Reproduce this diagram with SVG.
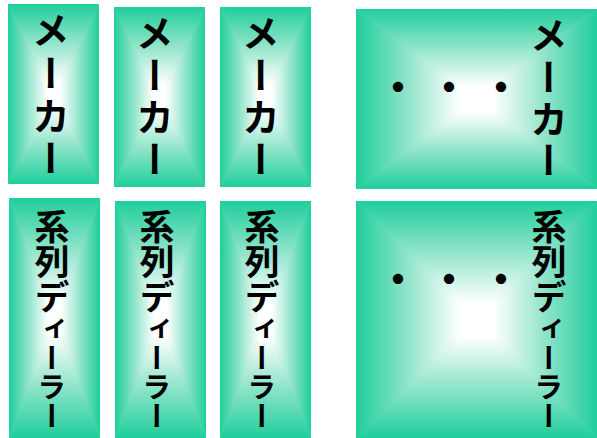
<svg xmlns="http://www.w3.org/2000/svg" xmlns:xlink="http://www.w3.org/1999/xlink" width="597" height="438" viewBox="0 0 597 438">
  <defs>
    <linearGradient id="gT" x1="0" y1="0" x2="0" y2="1"><stop offset="0" stop-color="#1FCE9B"/><stop offset="0.5" stop-color="#90E4CA"/><stop offset="1" stop-color="#FFFFFF"/></linearGradient>
    <linearGradient id="gB" x1="0" y1="1" x2="0" y2="0"><stop offset="0" stop-color="#1FCE9B"/><stop offset="0.5" stop-color="#90E4CA"/><stop offset="1" stop-color="#FFFFFF"/></linearGradient>
    <linearGradient id="gL" x1="0" y1="0" x2="1" y2="0"><stop offset="0" stop-color="#1FCE9B"/><stop offset="0.5" stop-color="#90E4CA"/><stop offset="1" stop-color="#FFFFFF"/></linearGradient>
    <linearGradient id="gR" x1="1" y1="0" x2="0" y2="0"><stop offset="0" stop-color="#1FCE9B"/><stop offset="0.5" stop-color="#90E4CA"/><stop offset="1" stop-color="#FFFFFF"/></linearGradient>
    <symbol id="bg" viewBox="0 0 100 100" preserveAspectRatio="none">
      <rect x="0" y="0" width="100" height="100" fill="#7EDDC0"/>
      <rect x="42" y="42" width="16" height="16" fill="#FFFFFF"/>
      <polygon points="0,0 100,0 57,43 43,43" fill="url(#gT)"/>
      <polygon points="0,100 100,100 57,57 43,57" fill="url(#gB)"/>
      <polygon points="0,0 0,100 43,57 43,43" fill="url(#gL)"/>
      <polygon points="100,0 100,100 57,57 57,43" fill="url(#gR)"/>
    </symbol>
  </defs>
  <style>
    .v { writing-mode: vertical-rl; font-family: "Noto Sans CJK JP", "Noto Sans CJK SC", sans-serif; font-size: 38px; font-weight: bold; fill: #000000; }
    .d { font-size: 35px; }
    .k { font-size: 29px; }
    .dot { font-family: "Noto Sans CJK JP", "Noto Sans CJK SC", sans-serif; font-size: 40px; font-weight: bold; fill: #000000; text-anchor: middle; dominant-baseline: central; }
  </style>

  <g id="maker1">
    <use xlink:href="#bg" x="8" y="4" width="91" height="180"/>
    <text class="v" x="51" y="11" textLength="166" lengthAdjust="spacing">メーカー</text>
  </g>
  <g id="maker2">
    <use xlink:href="#bg" x="114" y="7" width="91" height="180"/>
    <text class="v" x="155" y="14" textLength="164" lengthAdjust="spacing">メーカー</text>
  </g>
  <g id="maker3">
    <use xlink:href="#bg" x="220" y="7" width="91" height="180"/>
    <text class="v" x="261" y="14" textLength="164" lengthAdjust="spacing">メーカー</text>
  </g>
  <g id="maker4">
    <use xlink:href="#bg" x="356" y="9" width="241" height="180"/>
    <text class="v" x="549" y="16" textLength="163" lengthAdjust="spacing">メーカー</text>
    <text class="dot" x="398" y="85">・</text>
    <text class="dot" x="449" y="85">・</text>
    <text class="dot" x="501" y="85">・</text>
  </g>

  <g id="dealer1">
    <use xlink:href="#bg" x="9" y="198" width="91" height="240"/>
    <text class="v d" x="52" y="209">系列デ<tspan class="k">ィーラー</tspan></text>
  </g>
  <g id="dealer2">
    <use xlink:href="#bg" x="115" y="201" width="91" height="237"/>
    <text class="v d" x="157" y="209">系列デ<tspan class="k">ィーラー</tspan></text>
  </g>
  <g id="dealer3">
    <use xlink:href="#bg" x="220" y="201" width="91" height="237"/>
    <text class="v d" x="262" y="209">系列デ<tspan class="k">ィーラー</tspan></text>
  </g>
  <g id="dealer4">
    <use xlink:href="#bg" x="356" y="201" width="241" height="237"/>
    <text class="v d" x="549" y="209">系列デ<tspan class="k">ィーラー</tspan></text>
    <text class="dot" x="398" y="277">・</text>
    <text class="dot" x="449" y="277">・</text>
    <text class="dot" x="501" y="277">・</text>
  </g>
</svg>
